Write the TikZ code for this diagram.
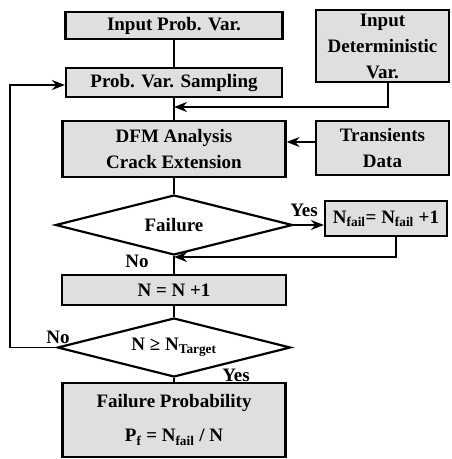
\documentclass[tikz,border=0pt]{standalone}
\usepackage{fontspec}
\setmainfont{Liberation Serif}
\usetikzlibrary{shapes.geometric,arrows.meta}
\newcommand{\fs}{\fontsize{19}{26}\selectfont\bfseries}
\begin{document}
\begin{tikzpicture}[x=1pt,y=-1pt,
  box/.style={draw, line width=2.2pt, fill=gray!25, inner sep=1pt, align=center, font=\fs},
  dia/.style={draw, diamond, line width=2.2pt, fill=white, inner sep=0pt, aspect=4, font=\fs},
  conn/.style={line width=1.8pt},
  arr/.style={conn, -{Stealth[length=13pt,width=10pt]}},
  lab/.style={font=\fs, inner sep=0pt}]
\useasboundingbox (0,0) rectangle (451,459);
\fill[white] (0,0) rectangle (451,459);
\node[box, minimum width=217pt, minimum height=27pt] (ipv) at (174,25.5) {Input Prob. Var.};
\node[box, minimum width=216pt, minimum height=29pt] (pvs) at (174,82.5) {Prob. Var. Sampling};
\node[box, minimum width=133pt, minimum height=72pt] (idv) at (382.5,46) {Input\\Deterministic\\Var.};
\node[box, minimum width=223pt, minimum height=56pt] (dfm) at (174,149) {DFM Analysis\\Crack Extension};
\node[box, minimum width=133pt, minimum height=54pt] (td) at (382.5,148) {Transients\\Data};
\node[dia, minimum width=237pt, minimum height=60pt] (fail) at (174,225) {Failure};
\node[box, minimum width=122pt, minimum height=35pt] (nf) at (386,218.5) {N\textsubscript{fail}= N\textsubscript{fail} +1};
\node[box, minimum width=224pt, minimum height=30pt] (nn) at (174,290) {N = N +1};
\node[dia, minimum width=233pt, minimum height=59pt] (tgt) at (174,347.5) {N ≥ N\textsubscript{Target}};
\node[box, minimum width=223pt, minimum height=74pt] (fp) at (174,420) {Failure Probability\\[8pt]P\textsubscript{f} = N\textsubscript{fail} / N};
\coordinate (j1) at (174,107);
\coordinate (j2) at (174,257);
\coordinate (loopx) at (10,0);
\draw[conn] (ipv) -- (pvs);
\draw[conn] (pvs) -- (dfm);
\draw[arr] ([xshift=5.5pt]idv.south) |- (j1);
\draw[arr] ([yshift=6pt]td.west) -- ([yshift=6pt]td.west -| dfm.east);
\draw[conn] (dfm) -- (fail);
\draw[arr] (fail.east) -- (fail.east -| nf.west);
\node[lab] (yes1) at (304,210) {Yes};
\draw[conn] (fail) -- (nn);
\draw[arr] ([xshift=10pt]nf.south) |- (j2);
\node[lab] (no1) at (137,261) {No};
\draw[conn] (nn) -- (tgt);
\draw[conn] (tgt) -- (fp);
\draw[arr] (tgt.west) -- (tgt.west -| loopx) |- ([yshift=-2.5pt]pvs.west);
\node[lab] (no2) at (58,337) {No};
\node[lab] (yes2) at (236,375) {Yes};
\end{tikzpicture}
\end{document}
